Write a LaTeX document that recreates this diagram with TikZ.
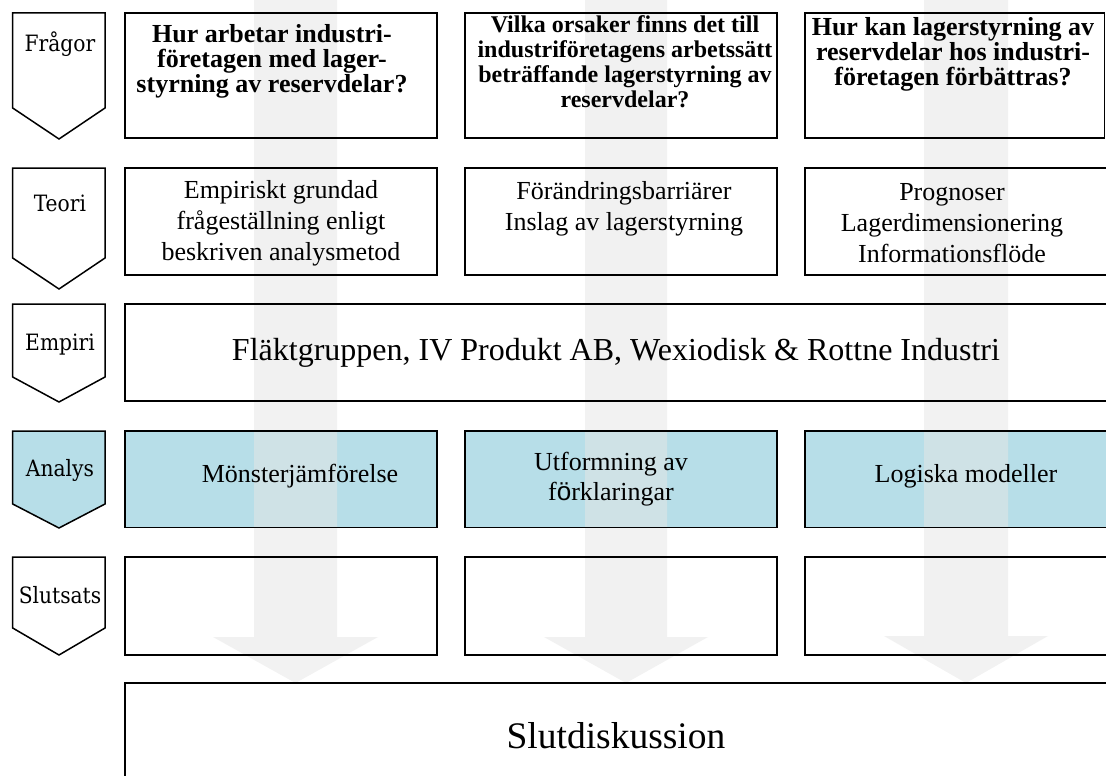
\documentclass[tikz,border=0pt]{standalone}
\usepackage{fontspec}
\newfontfamily\tnr{Liberation Serif}
\newfontfamily\lsans{Liberation Sans}
\newfontfamily\chevfont{DejaVu Serif Condensed}
\definecolor{tealfill}{HTML}{B7DEE8}
\definecolor{arrowgray}{HTML}{E6E6E6}
\pgfdeclarelayer{bg}
\pgfdeclarelayer{fg}
\pgfsetlayers{bg,main,fg}
\begin{document}
\begin{tikzpicture}[x=1pt,y=-1pt,
  boxbg/.style={rectangle, inner sep=0pt, outer sep=0pt, fill=white},
  border/.style={draw=black, line width=1.5pt},
  chev/.style={draw=black, line width=1.5pt, line join=miter},
  chevlabel/.style={font=\chevfont\fontsize{22.5}{27}\selectfont, inner sep=0pt, anchor=base},
  flow/.style={fill=arrowgray, fill opacity=0.52},
  qbig/.style={font=\tnr\bfseries\fontsize{26}{25}\selectfont, align=center, inner sep=0pt, anchor=north},
  qsmall/.style={font=\tnr\bfseries\fontsize{24}{25}\selectfont, align=center, inner sep=0pt, anchor=north},
  ttext/.style={font=\tnr\fontsize{26}{31}\selectfont, align=center, inner sep=0pt, anchor=north},
  ltext/.style={font=\tnr\fontsize{26}{30}\selectfont, align=center, inner sep=0pt, anchor=base}
]
\useasboundingbox (0,0) rectangle (1106,776);

% chevrons
\draw[chev] (12.7,13) -- (105,13) -- (105,108) -- (59,139) -- (12.7,108) -- cycle;
\node[chevlabel] (lq) at (60,52) {Frågor};
\draw[chev] (12.7,168) -- (105,168) -- (105,258) -- (59,289) -- (12.7,258) -- cycle;
\node[chevlabel] (lt) at (60,211) {Teori};
\draw[chev] (12.7,304) -- (105,304) -- (105,377) -- (59,402) -- (12.7,377) -- cycle;
\node[chevlabel] (le) at (60,350) {Empiri};
\draw[chev, fill=tealfill] (12.7,431) -- (105,431) -- (105,504) -- (59,528) -- (12.7,504) -- cycle;
\node[chevlabel] (la) at (60,476.5) {Analys};
\draw[chev] (12.7,557) -- (105,557) -- (105,628) -- (59,655) -- (12.7,628) -- cycle;
\node[chevlabel] (ls) at (60,603) {Slutsats};

\begin{pgfonlayer}{bg}
\node[boxbg, minimum width=312pt, minimum height=125pt] (q1) at (281,75.5) {};
\node[boxbg, minimum width=312pt, minimum height=125pt] (q2) at (621,75.5) {};
\node[boxbg, minimum width=299.5pt, minimum height=125pt] (q3) at (954.75,75.5) {};
\node[boxbg, minimum width=312pt, minimum height=107pt] (t1) at (281,221.5) {};
\node[boxbg, minimum width=312pt, minimum height=107pt] (t2) at (621,221.5) {};
\node[boxbg, minimum width=312pt, minimum height=107pt] (t3) at (961,221.5) {};
\node[boxbg, minimum width=1005pt, minimum height=97pt] (e) at (627.5,352.5) {};
\node[boxbg, fill=tealfill, minimum width=312pt, minimum height=96.5pt] (a1) at (281,479.25) {};
\node[boxbg, fill=tealfill, minimum width=312pt, minimum height=96.5pt] (a2) at (621,479.25) {};
\node[boxbg, fill=tealfill, minimum width=312pt, minimum height=96.5pt] (a3) at (961,479.25) {};
\node[boxbg, minimum width=312pt, minimum height=98pt] (s1) at (281,606) {};
\node[boxbg, minimum width=312pt, minimum height=98pt] (s2) at (621,606) {};
\node[boxbg, minimum width=312pt, minimum height=98pt] (s3) at (961,606) {};
\node[boxbg, minimum width=1005pt, minimum height=117pt] (d) at (627.5,741.5) {};
\end{pgfonlayer}

% broad background arrows
\fill[flow] (254,-5) -- (337,-5) -- (337,637) -- (378,637) -- (295.5,683) -- (213,637) -- (254,637) -- cycle;
\fill[flow] (585,-5) -- (667,-5) -- (667,637) -- (708,637) -- (626,683) -- (544,637) -- (585,637) -- cycle;
\fill[flow] (924,-5) -- (1008,-5) -- (1008,636) -- (1048,636) -- (966,683) -- (884,636) -- (924,636) -- cycle;

\begin{pgfonlayer}{fg}
\foreach \n in {q1,q2,q3,t1,t2,t3,e,a1,a2,a3,s1,s2,s3,d}
  \draw[border] (\n.north west) rectangle (\n.south east);

\node[qbig] (xq1) at (272,24.2) {Hur arbetar industri-\\företagen med lager-\\styrning av reservdelar?};
\node[qsmall] (xq2) at (625,15.6) {Vilka orsaker finns det till\\industriföretagens arbetssätt\\beträffande lagerstyrning av\\reservdelar?};
\node[qbig] (xq3) at (953,17.2) {Hur kan lagerstyrning av\\reservdelar hos industri-\\företagen förbättras?};

\node[ttext] (xt1) at (281,180.2) {Empiriskt grundad\\frågeställning enligt\\beskriven analysmetod};
\node[ttext] (xt2) at (624,181.2) {Förändringsbarriärer\\Inslag av lagerstyrning};
\node[ttext] (xt3) at (952,182.8) {Prognoser\\Lagerdimensionering\\Informationsflöde};

\node[font=\tnr\fontsize{32}{36}\selectfont, inner sep=0pt, anchor=base] (xe) at (616,360) {Fläktgruppen, IV Produkt AB, Wexiodisk \& Rottne Industri};

\node[ltext] (xa1) at (300,482) {Mönsterjämförelse};
\node[ltext] (xa2) at (611,500) {Utformning av\\f{\lsans ö}rklaringar};
\node[ltext] (xa3) at (966,482) {Logiska modeller};

\node[font=\tnr\fontsize{37.5}{42}\selectfont, inner sep=0pt, anchor=base] (xd) at (616,748) {Slutdiskussion};
\end{pgfonlayer}
\end{tikzpicture}
\end{document}
